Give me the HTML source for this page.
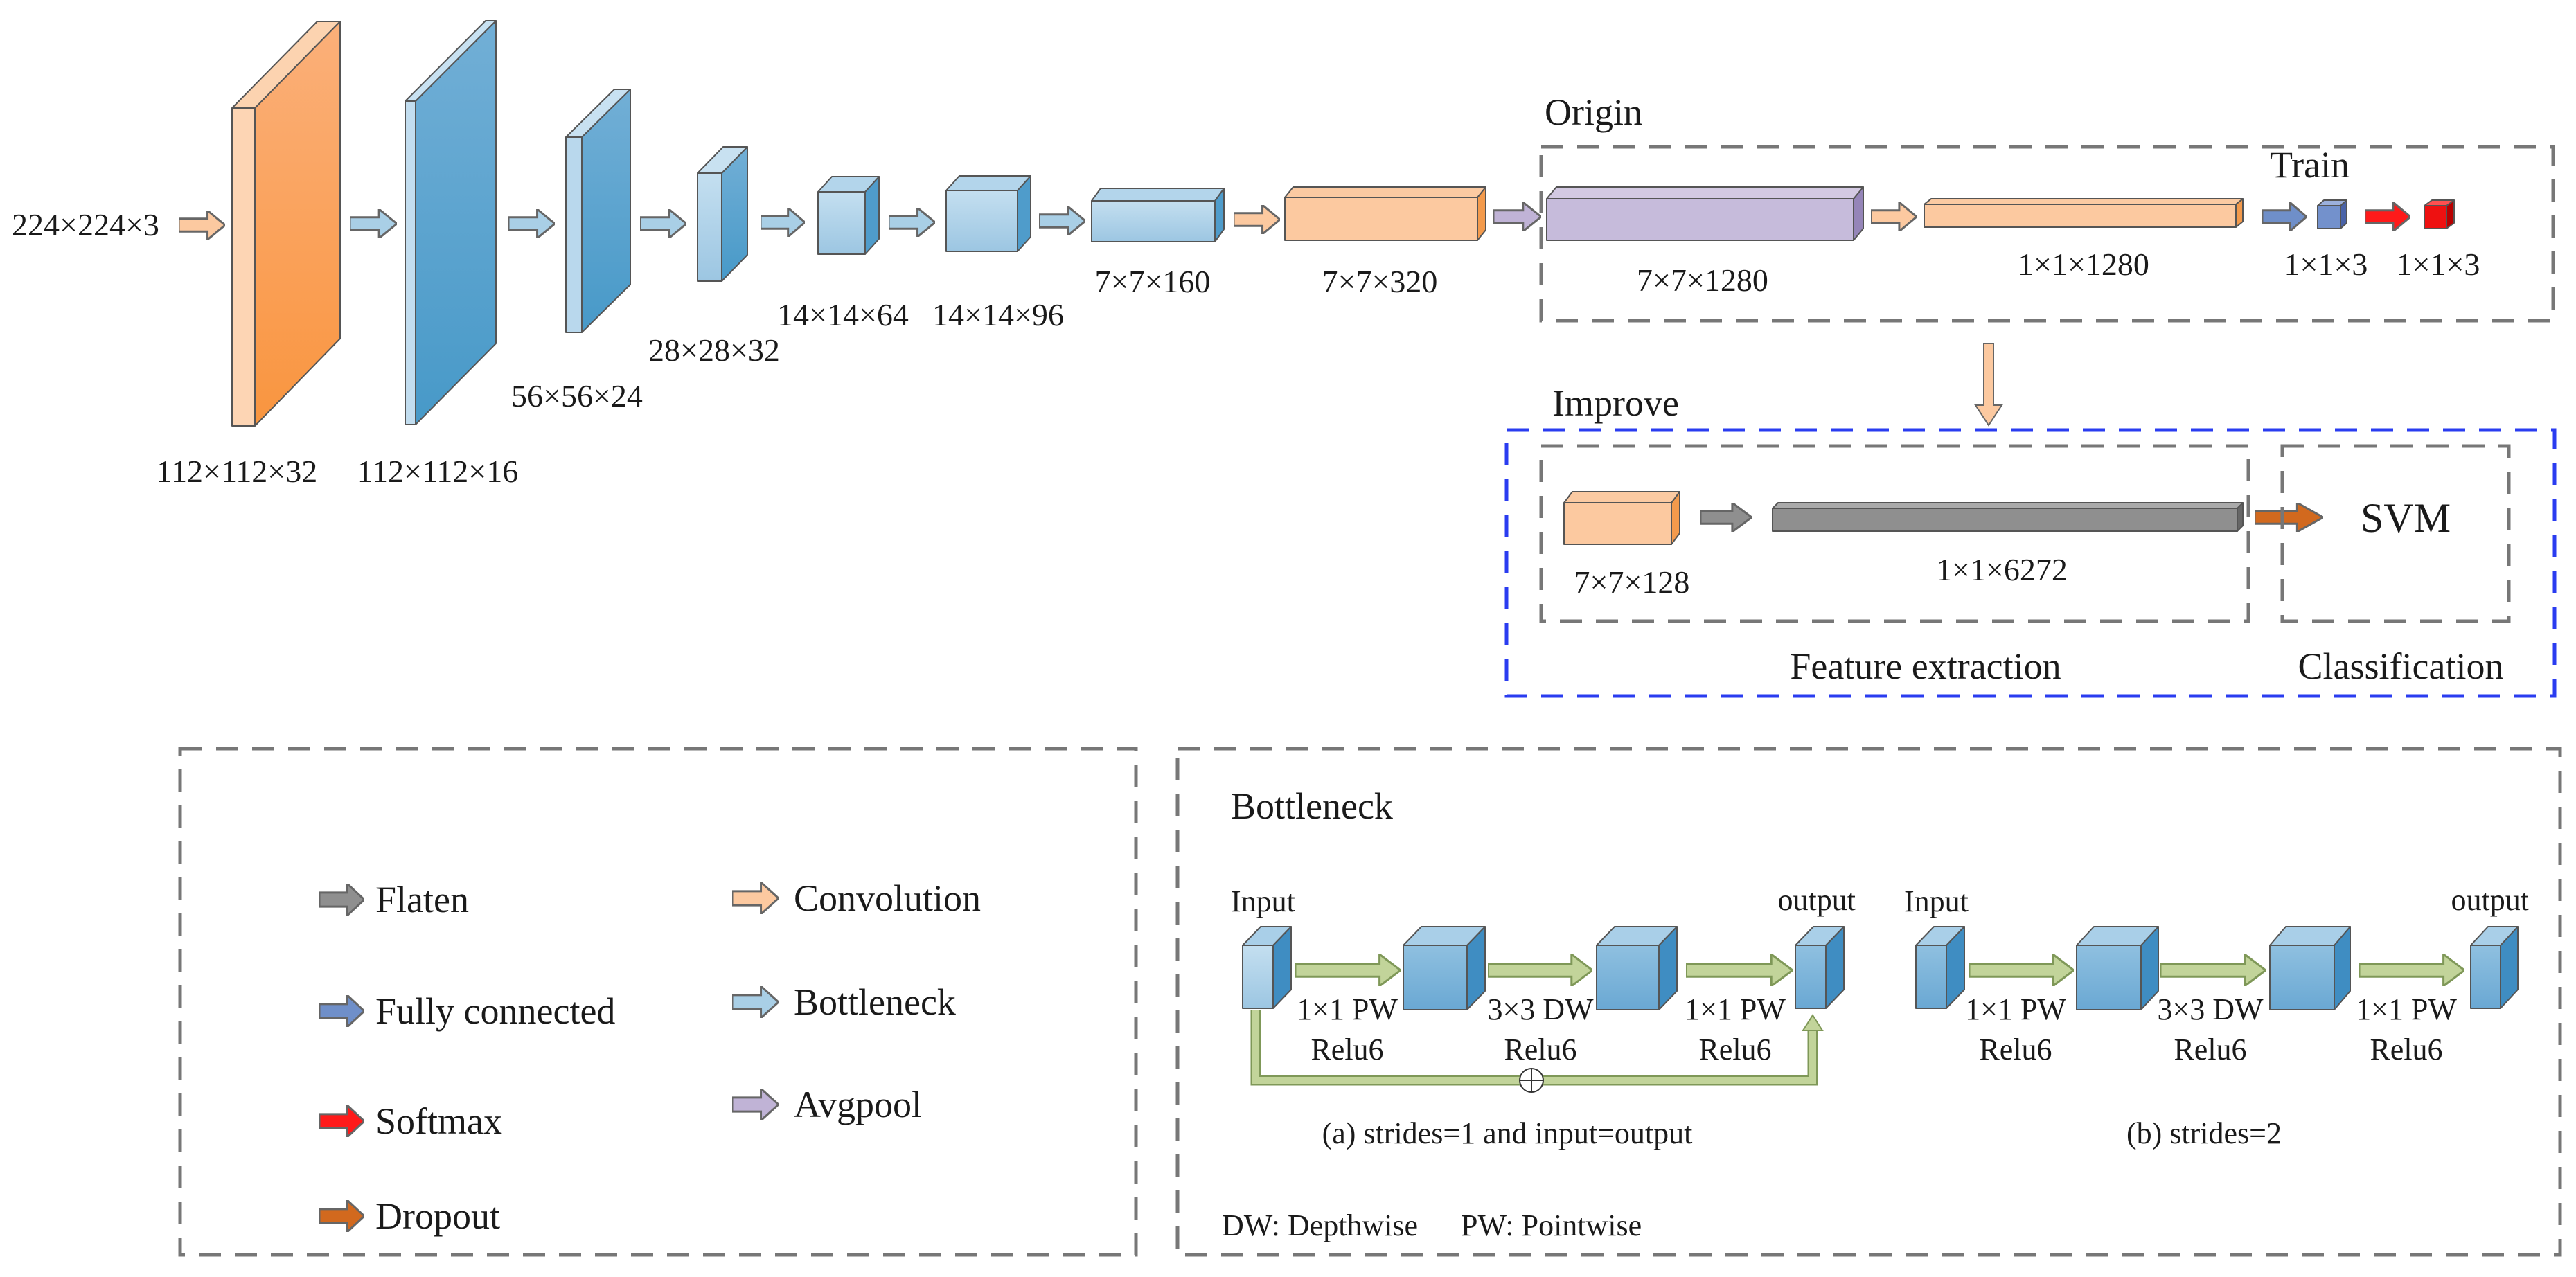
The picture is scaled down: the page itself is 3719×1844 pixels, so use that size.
<!DOCTYPE html>
<html><head><meta charset="utf-8"><style>html,body{margin:0;padding:0;background:#fff}svg{display:block}svg,text{font-family:"Liberation Serif","Times New Roman",serif !important;fill:#1a1a1a}</style></head>
<body>
<svg width="3719" height="1844" viewBox="0 0 3719 1844" xmlns="http://www.w3.org/2000/svg" font-family="Liberation Serif, Times New Roman, serif">
<defs>
<symbol id="ar" viewBox="0 0 100 100" preserveAspectRatio="none"><polygon points="0,28 62,28 62,0 100,50 62,100 62,72 0,72" stroke="#666" stroke-width="3" vector-effect="non-scaling-stroke"/></symbol>
<symbol id="ag" viewBox="0 0 100 100" preserveAspectRatio="none"><polygon points="0,30 80,30 80,0 100,50 80,100 80,70 0,70" stroke="#7f9858" stroke-width="3" vector-effect="non-scaling-stroke"/></symbol>
<linearGradient id="og" x1="0" y1="0" x2="0" y2="1"><stop offset="0" stop-color="#fbb07a"/><stop offset="1" stop-color="#f9953f"/></linearGradient>
<linearGradient id="bg" x1="0" y1="0" x2="0" y2="1"><stop offset="0" stop-color="#72afd6"/><stop offset="1" stop-color="#4799c8"/></linearGradient>
<linearGradient id="lb" x1="0" y1="0" x2="0" y2="1"><stop offset="0" stop-color="#c4dff0"/><stop offset="1" stop-color="#9cc6e2"/></linearGradient>
<linearGradient id="mb" x1="0" y1="0" x2="0" y2="1"><stop offset="0" stop-color="#8fc0e0"/><stop offset="1" stop-color="#6aa8d3"/></linearGradient>
</defs>
<g stroke="#555" stroke-width="2" stroke-linejoin="round">
<polygon points="368,156 491,31 491,489 368,615" fill="url(#og)"/>
<polygon points="335,156 458,31 491,31 368,156" fill="#fcd3b0"/>
<rect x="335" y="156" width="33" height="459" fill="#fdd5b4"/>
<polygon points="600,146 716,30 716,496 600,613" fill="url(#bg)"/>
<polygon points="585,146 701,30 716,30 600,146" fill="#c8e1f1"/>
<rect x="585" y="146" width="15" height="467" fill="#c2ddef"/>
<polygon points="840,198 910,129 910,411 840,480" fill="url(#bg)"/>
<polygon points="817,198 887,129 910,129 840,198" fill="#c8e1f1"/>
<rect x="817" y="198" width="23" height="282" fill="#b9d8ed"/>
<polygon points="1042,250 1079,212 1079,368 1042,406" fill="url(#bg)"/>
<polygon points="1007,250 1044,212 1079,212 1042,250" fill="#c8e1f1"/>
<rect x="1007" y="250" width="35" height="156" fill="url(#lb)"/>
<polygon points="1249,277 1269,255 1269,345 1249,367" fill="#4f9ccb"/>
<polygon points="1181,277 1201,255 1269,255 1249,277" fill="#b3d5eb"/>
<rect x="1181" y="277" width="68" height="90" fill="url(#lb)"/>
<polygon points="1469,275 1488,254 1488,342 1469,363" fill="#4f9ccb"/>
<polygon points="1366,275 1385,254 1488,254 1469,275" fill="#b3d5eb"/>
<rect x="1366" y="275" width="103" height="88" fill="url(#lb)"/>
<polygon points="1754,290 1767,272 1767,331 1754,349" fill="#4f9ccb"/>
<polygon points="1576,290 1589,272 1767,272 1754,290" fill="#b3d5eb"/>
<rect x="1576" y="290" width="178" height="59" fill="url(#lb)"/>
<polygon points="2133,285 2145,270 2145,332 2133,347" fill="#f39a4c"/>
<polygon points="1855,285 1867,270 2145,270 2133,285" fill="#fbcaa2"/>
<rect x="1855" y="285" width="278" height="62" fill="#fcc9a0"/>
<polygon points="2676,287 2690,270 2690,330 2676,347" fill="#9585b8"/>
<polygon points="2233,287 2247,270 2690,270 2676,287" fill="#d3c9e2"/>
<rect x="2233" y="287" width="443" height="60" fill="#c6bbdb"/>
<polygon points="3228,295 3238,287 3238,320 3228,328" fill="#f39a4c"/>
<polygon points="2778,295 2788,287 3238,287 3228,295" fill="#fbcaa2"/>
<rect x="2778" y="295" width="450" height="33" fill="#fcc9a0"/>
<polygon points="3379,297 3388,289 3388,322 3379,330" fill="#4a63a8"/>
<polygon points="3346,297 3355,289 3388,289 3379,297" fill="#9bb0dc"/>
<rect x="3346" y="297" width="33" height="33" fill="#7391cc"/>
<polygon points="3532,297 3543,289 3543,322 3532,330" fill="#b80000"/>
<polygon points="3500,297 3511,289 3543,289 3532,297" fill="#ff5050"/>
<rect x="3500" y="297" width="32" height="33" fill="#ee1111"/>
<polygon points="2413,726 2425,710 2425,770 2413,786" fill="#f39a4c"/>
<polygon points="2258,726 2270,710 2425,710 2413,726" fill="#fbcaa2"/>
<rect x="2258" y="726" width="155" height="60" fill="#fcc9a0"/>
<polygon points="3230,734 3238,726 3238,759 3230,767" fill="#666"/>
<polygon points="2559,734 2567,726 3238,726 3230,734" fill="#aaa"/>
<rect x="2559" y="734" width="671" height="33" fill="#8f8f8f"/>
<polygon points="1838,1365 1864,1338 1864,1429 1838,1456" fill="#3f8dc2"/>
<polygon points="1794,1365 1820,1338 1864,1338 1838,1365" fill="#a9cfe8"/>
<rect x="1794" y="1365" width="44" height="91" fill="url(#lb)"/>
<polygon points="2118,1365 2144,1338 2144,1431 2118,1458" fill="#3f8dc2"/>
<polygon points="2026,1365 2052,1338 2144,1338 2118,1365" fill="#a9cfe8"/>
<rect x="2026" y="1365" width="92" height="93" fill="url(#mb)"/>
<polygon points="2395,1365 2421,1338 2421,1431 2395,1458" fill="#3f8dc2"/>
<polygon points="2305,1365 2331,1338 2421,1338 2395,1365" fill="#a9cfe8"/>
<rect x="2305" y="1365" width="90" height="93" fill="url(#mb)"/>
<polygon points="2636,1365 2662,1338 2662,1429 2636,1456" fill="#3f8dc2"/>
<polygon points="2592,1365 2618,1338 2662,1338 2636,1365" fill="#a9cfe8"/>
<rect x="2592" y="1365" width="44" height="91" fill="url(#mb)"/>
<polygon points="2810,1365 2836,1338 2836,1429 2810,1456" fill="#3f8dc2"/>
<polygon points="2766,1365 2792,1338 2836,1338 2810,1365" fill="#a9cfe8"/>
<rect x="2766" y="1365" width="44" height="91" fill="url(#mb)"/>
<polygon points="3091,1365 3116,1338 3116,1431 3091,1458" fill="#3f8dc2"/>
<polygon points="2998,1365 3023,1338 3116,1338 3091,1365" fill="#a9cfe8"/>
<rect x="2998" y="1365" width="93" height="93" fill="url(#mb)"/>
<polygon points="3370,1365 3393,1338 3393,1431 3370,1458" fill="#3f8dc2"/>
<polygon points="3277,1365 3300,1338 3393,1338 3370,1365" fill="#a9cfe8"/>
<rect x="3277" y="1365" width="93" height="93" fill="url(#mb)"/>
<polygon points="3610,1365 3635,1338 3635,1429 3610,1456" fill="#3f8dc2"/>
<polygon points="3567,1365 3592,1338 3635,1338 3610,1365" fill="#a9cfe8"/>
<rect x="3567" y="1365" width="43" height="91" fill="url(#mb)"/>
</g>
<use href="#ar" x="258" y="304" width="67" height="42" fill="#fcc9a0"/>
<use href="#ar" x="505" y="302" width="68" height="42" fill="#a9cfe6"/>
<use href="#ar" x="734" y="302" width="67" height="42" fill="#a9cfe6"/>
<use href="#ar" x="924" y="302" width="67" height="42" fill="#a9cfe6"/>
<use href="#ar" x="1098" y="300" width="64" height="42" fill="#a9cfe6"/>
<use href="#ar" x="1283" y="300" width="67" height="42" fill="#a9cfe6"/>
<use href="#ar" x="1500" y="298" width="67" height="42" fill="#a9cfe6"/>
<use href="#ar" x="1781" y="296" width="67" height="42" fill="#fcc9a0"/>
<use href="#ar" x="2156" y="292" width="69" height="42" fill="#c0b3d6"/>
<use href="#ar" x="2701" y="292" width="66" height="42" fill="#fcc9a0"/>
<use href="#ar" x="3266" y="292" width="64" height="42" fill="#6f8fc9"/>
<use href="#ar" x="3414" y="292" width="66" height="42" fill="#ff1a1a"/>
<use href="#ar" x="2455" y="726" width="74" height="42" fill="#8f8f8f"/>
<use href="#ar" x="3255" y="726" width="99" height="42" fill="#d2691e"/>
<polygon points="2864,496 2878,496 2878,585 2890,585 2871,614 2852,585 2864,585" fill="#fcc9a0" stroke="#666" stroke-width="2"/>
<use href="#ar" x="461" y="1276" width="65" height="46" fill="#8f8f8f"/>
<use href="#ar" x="461" y="1437" width="65" height="46" fill="#6f8fc9"/>
<use href="#ar" x="461" y="1596" width="65" height="46" fill="#ff1a1a"/>
<use href="#ar" x="461" y="1733" width="65" height="46" fill="#d2691e"/>
<use href="#ar" x="1057" y="1274" width="67" height="46" fill="#fcc9a0"/>
<use href="#ar" x="1057" y="1424" width="67" height="46" fill="#a9cfe6"/>
<use href="#ar" x="1057" y="1572" width="67" height="46" fill="#c0b3d6"/>
<use href="#ag" x="1870" y="1378" width="152" height="46" fill="#c2d49a"/>
<use href="#ag" x="2148" y="1378" width="151" height="46" fill="#c2d49a"/>
<use href="#ag" x="2434" y="1378" width="154" height="46" fill="#c2d49a"/>
<use href="#ag" x="2843" y="1378" width="151" height="46" fill="#c2d49a"/>
<use href="#ag" x="3119" y="1378" width="152" height="46" fill="#c2d49a"/>
<use href="#ag" x="3406" y="1378" width="152" height="46" fill="#c2d49a"/>
<path d="M1813,1458 V1560 H2617 V1482" fill="none" stroke="#7f9858" stroke-width="15"/>
<path d="M1813,1458 V1560 H2617 V1482" fill="none" stroke="#c2d49a" stroke-width="10"/>
<polygon points="2603,1488 2631,1488 2617,1466" fill="#c2d49a" stroke="#7f9858" stroke-width="2"/>
<circle cx="2211" cy="1560" r="17" fill="#fff" stroke="#333" stroke-width="2"/>
<path d="M2194,1560 H2228 M2211,1543 V1577" stroke="#333" stroke-width="2"/>
<g fill="none" stroke="#777" stroke-width="5" stroke-dasharray="32,20">
<rect x="2225" y="212" width="1461" height="251"/>
<rect x="2225" y="644" width="1021" height="253"/>
<rect x="3295" y="644" width="327" height="253"/>
<rect x="260" y="1081" width="1380" height="731"/>
<rect x="1700" y="1081" width="1996" height="731"/>
</g>
<rect x="2175" y="621" width="1513" height="384" fill="none" stroke="#2a3cf0" stroke-width="5" stroke-dasharray="32,20"/>
<g font-size="46">
<text x="17" y="340">224×224×3</text>
<text x="342" y="696" text-anchor="middle">112×112×32</text>
<text x="632" y="696" text-anchor="middle">112×112×16</text>
<text x="833" y="587" text-anchor="middle">56×56×24</text>
<text x="1031" y="521" text-anchor="middle">28×28×32</text>
<text x="1217" y="470" text-anchor="middle">14×14×64</text>
<text x="1441" y="470" text-anchor="middle">14×14×96</text>
<text x="1664" y="422" text-anchor="middle">7×7×160</text>
<text x="1992" y="422" text-anchor="middle">7×7×320</text>
<text x="2458" y="420" text-anchor="middle">7×7×1280</text>
<text x="3008" y="397" text-anchor="middle">1×1×1280</text>
<text x="3358" y="397" text-anchor="middle">1×1×3</text>
<text x="3520" y="397" text-anchor="middle">1×1×3</text>
<text x="2356" y="856" text-anchor="middle">7×7×128</text>
<text x="2890" y="838" text-anchor="middle">1×1×6272</text>
</g>
<g font-size="54">
<text x="2230" y="180">Origin</text>
<text x="3277" y="256">Train</text>
<text x="2241" y="600">Improve</text>
<text x="3408" y="768" font-size="60">SVM</text>
<text x="2780" y="980" text-anchor="middle">Feature extraction</text>
<text x="3466" y="980" text-anchor="middle">Classification</text>
<text x="542" y="1317">Flaten</text>
<text x="542" y="1478">Fully connected</text>
<text x="542" y="1637">Softmax</text>
<text x="542" y="1774">Dropout</text>
<text x="1146" y="1315">Convolution</text>
<text x="1146" y="1465">Bottleneck</text>
<text x="1146" y="1613">Avgpool</text>
<text x="1777" y="1182">Bottleneck</text>
</g>
<g font-size="44">
<text x="1777" y="1316">Input</text>
<text x="2679" y="1314" text-anchor="end">output</text>
<text x="2749" y="1316">Input</text>
<text x="3651" y="1314" text-anchor="end">output</text>
<g text-anchor="middle">
<text x="1945" y="1472">1×1 PW</text><text x="1945" y="1530">Relu6</text>
<text x="2224" y="1472">3×3 DW</text><text x="2224" y="1530">Relu6</text>
<text x="2505" y="1472">1×1 PW</text><text x="2505" y="1530">Relu6</text>
<text x="2910" y="1472">1×1 PW</text><text x="2910" y="1530">Relu6</text>
<text x="3191" y="1472">3×3 DW</text><text x="3191" y="1530">Relu6</text>
<text x="3474" y="1472">1×1 PW</text><text x="3474" y="1530">Relu6</text>
<text x="2176" y="1651">(a) strides=1 and input=output</text>
<text x="3182" y="1651">(b) strides=2</text>
</g>
<text x="1764" y="1784">DW: Depthwise</text>
<text x="2109" y="1784">PW: Pointwise</text>
</g>
</svg>
</body></html>
